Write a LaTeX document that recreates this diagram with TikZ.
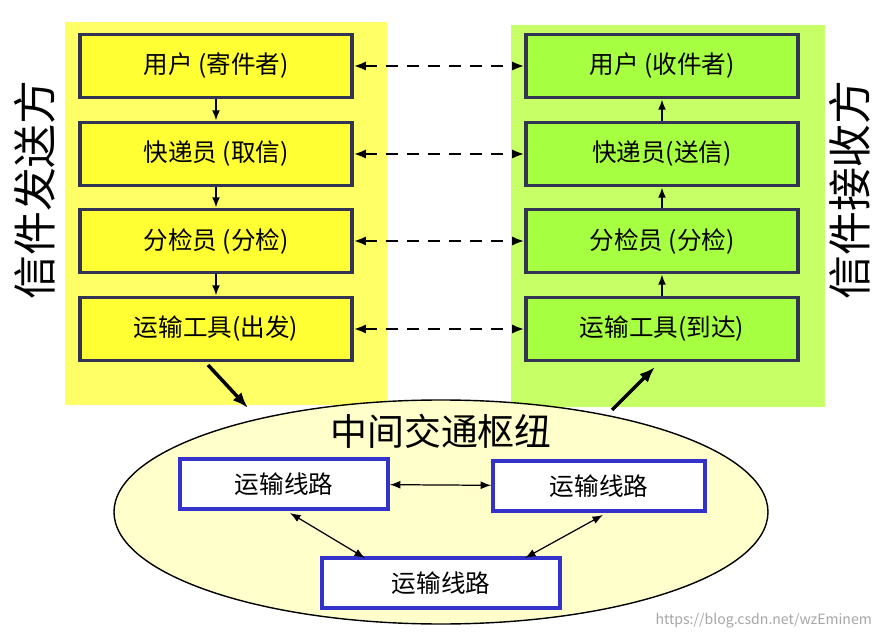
\documentclass[tikz,border=0pt]{standalone}
\usepackage{fontspec}
\setmainfont{Noto Sans CJK SC}
\usetikzlibrary{arrows.meta,shapes.geometric}
\definecolor{bgY}{HTML}{FFFF66}
\definecolor{bgG}{HTML}{C6FF66}
\definecolor{boxY}{HTML}{FFFF33}
\definecolor{boxG}{HTML}{A6FF40}
\definecolor{edge}{HTML}{333355}
\definecolor{ellF}{HTML}{FFFFCC}
\definecolor{blu}{HTML}{3333CC}
\begin{document}
\begin{tikzpicture}[x=0.02cm,y=-0.02cm,
  box/.style={draw=edge,line width=1.8pt,minimum width=272*0.02cm,minimum height=63*0.02cm,font=\fontsize{14}{16}\selectfont,inner sep=0},
  lb/.style={box,fill=boxY}, rb/.style={box,fill=boxG},
  tb/.style={draw=blu,line width=2pt,fill=white,minimum height=50*0.02cm,font=\fontsize{14}{16}\selectfont,inner sep=0},
  da/.style={line width=1.6pt,dash pattern=on 7pt off 5pt,{Latex[length=7pt]}-{Latex[length=7pt]}},
  sa/.style={line width=1.5pt,-{Latex[length=6pt]}},
  ba/.style={line width=2pt,-{Latex[length=9pt]}},
  ta/.style={line width=0.7pt,{Latex[length=6pt]}-{Latex[length=6pt]}}]
\useasboundingbox (0,0) rectangle (883,635);
\fill[white] (0,0) rectangle (883,635);
\fill[bgY] (65,22) rectangle (387,405);
\fill[bgG] (511,25) rectangle (825,407);
\node[rotate=90,font=\fontsize{25}{27}\selectfont] (ls) at (35,190) {信件发送方};
\node[rotate=90,font=\fontsize{25}{27}\selectfont] (rs) at (850,190) {信件接收方};
\node[lb] (l1) at (216,66) {用户 (寄件者)};
\node[lb] (l2) at (216,154) {快递员 (取信)};
\node[lb] (l3) at (216,241) {分检员 (分检)};
\node[lb] (l4) at (216,329) {运输工具(出发)};
\node[rb] (r1) at (662,66) {用户 (收件者)};
\node[rb] (r2) at (662,154) {快递员(送信)};
\node[rb] (r3) at (662,241) {分检员 (分检)};
\node[rb] (r4) at (662,329) {运输工具(到达)};
\foreach \i in {1,2,3,4} \draw[da] (l\i) -- (r\i);
\draw[sa] (l1) -- (l2); \draw[sa] (l2) -- (l3); \draw[sa] (l3) -- (l4);
\draw[sa] (r4) -- (r3); \draw[sa] (r3) -- (r2); \draw[sa] (r2) -- (r1);
\node[draw=black,line width=0.8pt,fill=ellF,ellipse,minimum width=654*0.02cm,minimum height=224*0.02cm] (hub) at (441,512) {};
\node[font=\fontsize{21}{23}\selectfont] (ht) at (441,431) {中间交通枢纽};
\node[tb,minimum width=208*0.02cm] (t1) at (284,484) {运输线路};
\node[tb,minimum width=212*0.02cm] (t2) at (599,486) {运输线路};
\node[tb,minimum width=238*0.02cm] (t3) at (441,583) {运输线路};
\draw[ta] (t1) -- (t2);
\coordinate (p1) at (290,513); \coordinate (p2) at (365,558);
\coordinate (p3) at (603,515); \coordinate (p4) at (525,558);
\draw[ta] (p1) -- (p2);
\draw[ta] (p3) -- (p4);
\coordinate (s1) at (208,365); \coordinate (s2) at (248,408);
\coordinate (e1) at (612,410); \coordinate (e2) at (655,367);
\draw[ba] (s1) -- (s2);
\draw[ba] (e1) -- (e2);
\node[text=gray!70,font=\fontsize{8}{9}\selectfont,anchor=east] (wm) at (878,621) {https://blog.csdn.net/wzEminem};
\end{tikzpicture}
\end{document}
